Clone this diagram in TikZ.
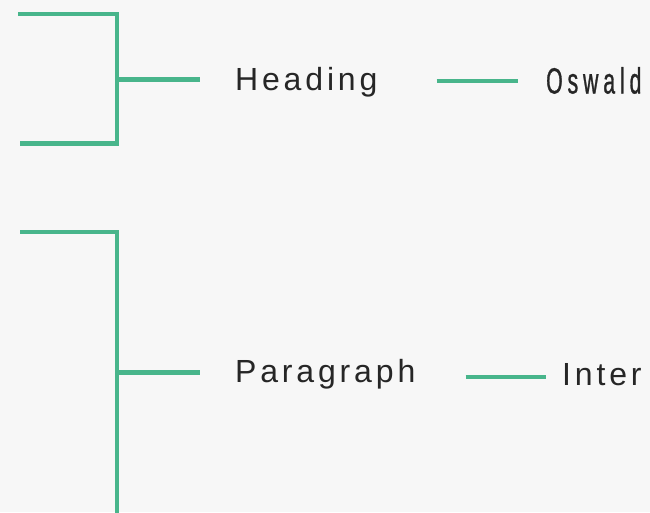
\documentclass[tikz,border=0pt]{standalone}
\usepackage{fontspec}
\setmainfont[LetterSpace=12]{Liberation Sans}
\newfontfamily\oswaldfont[FakeStretch=0.58, LetterSpace=13.5, FakeBold=0.8]{Liberation Sans}
\usepackage{xcolor}
\definecolor{Mint}{RGB}{72,181,139}
\definecolor{Ink}{RGB}{38,38,38}
\definecolor{Paper}{RGB}{247,247,247}

\begin{document}
\begin{tikzpicture}[x=1pt, y=-1pt,
        bracket/.style={Mint, line width=4.6pt},
        label/.style={Ink, inner sep=0pt, text depth=0pt, font=\fontsize{32}{38}\selectfont}]
        \fill[Paper] (0,0) rectangle (650,512);
        \useasboundingbox (0,0) rectangle (650,512);

        \node (heading) at (235, 90.7)[label, anchor=base west, text height=23.5pt] {Heading};
        \node (oswald) at (546, 93.5)[label, anchor=base west, text height=25pt, font=\oswaldfont\fontsize{36.5}{40}\selectfont] {Oswald};
        \node (paragraph) at (235, 382.5)[label, anchor=base west, text height=23.5pt] {Paragraph};
        \node (inter) at (562, 385.7)[label, anchor=base west, text height=23.5pt] {Inter};

        \coordinate (hmid) at (117, 79.2);
        \coordinate (pmid) at (117, 372.2);

        % top bracket
        \draw[bracket] (18, 13.8) -- (117, 13.8) -- (117, 143.5) -- (20, 143.5);
        \draw[bracket, shorten >=35pt] (hmid) -- (hmid -| heading.west);

        % bottom bracket
        \draw[bracket] (20, 231.8) -- (117, 231.8) -- (117, 530);
        \draw[bracket, shorten >=35pt] (pmid) -- (pmid -| paragraph.west);

        \draw[bracket, shorten <=59pt, shorten >=28pt] (heading.east |- oswald.west) -- (oswald.west);
        \draw[bracket, shorten <=50pt, shorten >=16.5pt] ([yshift=-3pt]inter.west -| paragraph.east) -- ([yshift=-3pt]inter.west);
    \end{tikzpicture}
\end{document}
